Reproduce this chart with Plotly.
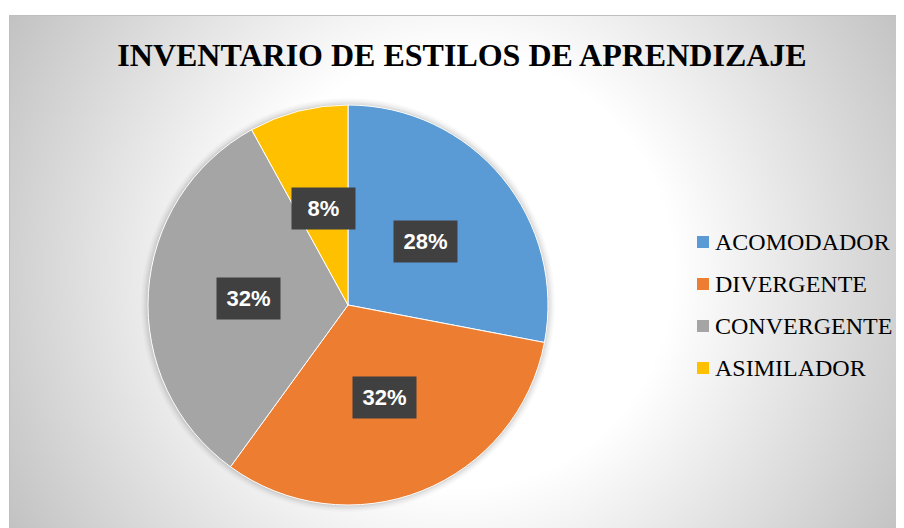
import base64
import numpy as np
import plotly.graph_objects as go

# ---- data ----
categories = ["ACOMODADOR", "DIVERGENTE", "CONVERGENTE", "ASIMILADOR"]
values = [28, 32, 32, 8]
colors = ["#5B9BD5", "#ED7D31", "#A5A5A5", "#FFC000"]
title_text = "INVENTARIO DE ESTILOS DE APRENDIZAJE"

# ---- layout constants (page pixels) ----
W, H = 904, 528
OFF = 8                     # page body margin
AX0, AY0 = 9, 15            # chart area top-left
cx, cy, R = 348, 305, 200   # pie centre / radius


def px(x):
    return (x - OFF) / W


def py(y):
    return 1 - (y - OFF) / H


fig = go.Figure(go.Pie(
    labels=categories, values=values, sort=False, direction="clockwise",
    rotation=0,
    marker=dict(colors=colors, line=dict(color="white", width=1)),
    textinfo="none", hoverinfo="label+percent", showlegend=False,
    domain=dict(x=[px(cx - R), px(cx + R)], y=[py(cy + R), py(cy - R)]),
))

# background radial gradient
aw, ah = W - AX0 + OFF, H - AY0 + OFF
gcx, gcy = (W - AX0) / 2, (H - AY0) / 2
svg = (f'<svg xmlns="http://www.w3.org/2000/svg" width="{aw}" height="{ah}">'
       f'<defs><radialGradient id="g" gradientUnits="userSpaceOnUse" cx="{gcx}" cy="{gcy}" r="{np.hypot(gcx, gcy):.1f}">'
       '<stop offset="0" stop-color="#ffffff"/><stop offset="0.42" stop-color="#ffffff"/>'
       '<stop offset="1" stop-color="#c2c2c2"/></radialGradient></defs>'
       f'<rect width="{aw}" height="{ah}" fill="url(#g)"/></svg>')
src = "data:image/svg+xml;base64," + base64.b64encode(svg.encode()).decode()

shapes = []
# soft shadow halo around pie
for i, op in enumerate([0.05, 0.04, 0.03, 0.025, 0.02]):
    r = R + 1 + i * 1.5
    shapes.append(dict(type="circle", xref="paper", yref="paper", layer="below",
                       x0=px(cx - r), x1=px(cx + r), y0=py(cy + r), y1=py(cy - r),
                       fillcolor=f"rgba(0,0,0,{op})", line=dict(width=0)))
# chart border
shapes.append(dict(type="rect", xref="paper", yref="paper", layer="above",
                   x0=px(AX0 + 0.5), x1=px(W + 20), y0=py(H + 20), y1=py(AY0 + 0.5),
                   line=dict(color="#BFBFBF", width=1), fillcolor="rgba(0,0,0,0)"))

annotations = []
# data labels
total = sum(values)
cum = np.cumsum(values)
for v, c in zip(values, cum):
    ang = (c - v / 2) / total * 2 * np.pi
    lx = cx + 0.5 * R * np.sin(ang)
    ly = cy - 0.5 * R * np.cos(ang)
    annotations.append(dict(
        x=px(lx), y=py(ly), xref="paper", yref="paper", showarrow=False,
        text=f"<b>{round(v / total * 100)}%</b>",
        font=dict(family="Liberation Sans", size=22, color="white"),
        bgcolor="#404040", borderpad=6, width=51, height=29,
        xanchor="center", yanchor="middle"))

# legend (manual)
leg_x, leg_y0, leg_dy, sq = 697, 242, 42, 12
for i, (lab, col) in enumerate(zip(categories, colors)):
    yy = leg_y0 + i * leg_dy
    shapes.append(dict(type="rect", xref="paper", yref="paper",
                       x0=px(leg_x), x1=px(leg_x + sq), y0=py(yy + sq / 2), y1=py(yy - sq / 2),
                       fillcolor=col, line=dict(width=0)))
    annotations.append(dict(
        x=px(leg_x + sq + 4), y=py(yy), xref="paper", yref="paper", showarrow=False,
        text=lab, font=dict(family="Liberation Serif", size=24, color="#000000"),
        xanchor="left", yanchor="middle"))

fig.update_layout(
    width=W, height=H, margin=dict(l=0, r=0, t=0, b=0),
    paper_bgcolor="white", plot_bgcolor="white",
    title=dict(text=f"<b>{title_text}</b>", x=px(462), y=py(55),
               xanchor="center", yanchor="middle",
               font=dict(family="Liberation Serif", size=32, color="#000000")),
    images=[dict(source=src, xref="paper", yref="paper", x=px(AX0), y=py(AY0),
                 sizex=aw / W, sizey=ah / H, xanchor="left", yanchor="top",
                 sizing="stretch", layer="below")],
    shapes=shapes, annotations=annotations,
)

fig.write_html("out.html")
